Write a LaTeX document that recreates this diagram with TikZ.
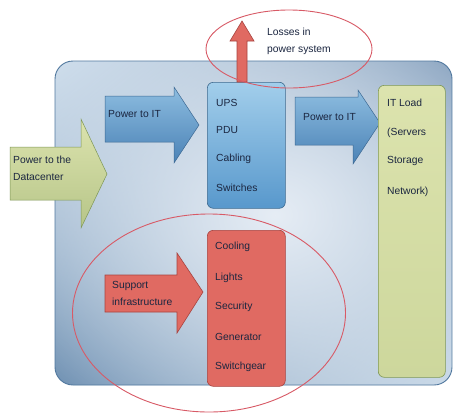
\documentclass[tikz,border=0pt]{standalone}
\usepackage{fontspec}
\setmainfont{Liberation Sans}
\usetikzlibrary{shapes.geometric,fadings,shadings}

\definecolor{panelUL}{HTML}{C4D7E8}
\definecolor{panelUR}{HTML}{587CA3}
\definecolor{panelLL}{HTML}{406C98}
\definecolor{panelLR}{HTML}{BCD0E2}
\definecolor{panelGlow}{HTML}{E6EDF5}
\definecolor{panelEdge}{HTML}{52799F}
\definecolor{blueTop}{HTML}{A2CEEB}
\definecolor{blueBot}{HTML}{5898CC}
\definecolor{arrowTop}{HTML}{8DBDE0}
\definecolor{arrowBot}{HTML}{4B82B6}
\definecolor{greenTop}{HTML}{DCE3AE}
\definecolor{greenMid}{HTML}{B6C588}
\definecolor{greenBot}{HTML}{CDD79C}
\definecolor{greenEdge}{HTML}{7E9756}
\definecolor{redFill}{HTML}{E06A62}
\definecolor{redEdge}{HTML}{A8433F}
\definecolor{ringRed}{HTML}{D85A66}
\definecolor{txt}{HTML}{1B2640}

\tikzfading[name=glowfade, inner color=transparent!0, outer color=transparent!100]

\tikzset{
  lbl/.style={anchor=west, inner sep=0pt, text=txt,
    font=\fontsize{10.3}{11}\selectfont},
  bluebox/.style={top color=blueTop, bottom color=blueBot, draw=blueBot!70!black,
    line width=0.6pt, rounded corners=6pt},
  greenbox/.style={top color=greenTop, middle color=greenMid, bottom color=greenBot,
    draw=greenEdge, line width=0.6pt, rounded corners=6pt},
  redbox/.style={fill=redFill, draw=redEdge, line width=0.6pt, rounded corners=6pt},
  bluearrow/.style={top color=arrowTop, bottom color=arrowBot, draw=arrowBot!80!black,
    line width=0.5pt},
  greenarrow/.style={top color=greenTop, bottom color=greenMid, draw=greenEdge,
    line width=0.5pt},
  redarrow/.style={fill=redFill, draw=redEdge, line width=0.6pt},
  ring/.style={draw=ringRed, line width=0.9pt},
}

\begin{document}
\begin{tikzpicture}[x=1pt, y=-1pt]
\useasboundingbox (0,0) rectangle (454,413);
\fill[white] (0,0) rectangle (454,413);

% back panel: corner-coloured base with a pale glow in the middle
\begin{scope}
  \clip[rounded corners=18pt] (55,61) rectangle (452,385);
  \shade[upper left=panelUL, upper right=panelUR, lower left=panelLL, lower right=panelLR]
    (55,61) rectangle (452,385);
  \fill[panelGlow, path fading=glowfade] (275,215) ellipse (420pt and 340pt);
\end{scope}
\draw[panelEdge, line width=0.9pt, rounded corners=18pt] (55,61) rectangle (452,385);

% incoming power
\draw[greenarrow] (10,147) -- (81,147) -- (81,119) -- (107,174) -- (81,228) -- (81,200) -- (10,200) -- cycle;
\node[lbl] (dc1) at (13,160) {Power to the};
\node[lbl] (dc2) at (13,177) {Datacenter};

% power path into the power system
\draw[bluearrow] (105,96) -- (174,96) -- (174,87) -- (199,125) -- (174,163) -- (174,142) -- (105,142) -- cycle;
\node[lbl] (pit1) at (108,114) {Power to IT};

\node[bluebox, minimum width=78pt, minimum height=126pt, anchor=north west] (pwr) at (207,82) {};
\node[lbl] (ups) at (216,103) {UPS};
\node[lbl] (pdu) at (216,130) {PDU};
\node[lbl] (cab) at (216,159) {Cabling};
\node[lbl] (swi) at (216,188) {Switches};

% losses leaving the power system
\coordinate (shL) at (237,41);
\coordinate (shR) at (247,41);
\coordinate (lossTop) at (242,21);
\draw[redarrow] (pwr.north -| shL) -- (shL) -- (230,41) -- (lossTop) -- (254,41) -- (shR) -- (pwr.north -| shR) -- cycle;
\node[ring, ellipse, minimum width=166pt, minimum height=78pt] (loss) at (289,49) {};
\node[lbl] (los1) at (267,32) {Losses in};
\node[lbl] (los2) at (267,50) {power system};

% power path into the IT load
\draw[bluearrow] (295,97) -- (358,97) -- (358,90) -- (380,123) -- (353,164) -- (353,145) -- (295,145) -- cycle;
\node[lbl] (pit2) at (303,117) {Power to IT};

\node[greenbox, minimum width=67pt, minimum height=292pt, anchor=north west] (it) at (378,85) {};
\node[lbl] (it1) at (387,103) {IT Load};
\node[lbl] (it2) at (387,133) {(Servers};
\node[lbl] (it3) at (387,161) {Storage};
\node[lbl] (it4) at (387,192) {Network)};

% support infrastructure
\draw[redarrow] (105,275) -- (177,275) -- (177,253) -- (203,292) -- (177,333) -- (177,312) -- (105,312) -- cycle;
\node[lbl] (sup1) at (112,286) {Support};
\node[lbl] (sup2) at (112,302) {infrastructure};

\node[redbox, minimum width=78pt, minimum height=156pt, anchor=north west] (inf) at (207,230) {};
\node[lbl] (coo) at (215,247) {Cooling};
\node[lbl] (lig) at (215,278) {Lights};
\node[lbl] (sec) at (215,307) {Security};
\node[lbl] (gen) at (215,337) {Generator};
\node[lbl] (swg) at (215,367) {Switchgear};

\node[ring, ellipse, minimum width=273pt, minimum height=198pt] (supring) at (209,313) {};
\end{tikzpicture}
\end{document}
